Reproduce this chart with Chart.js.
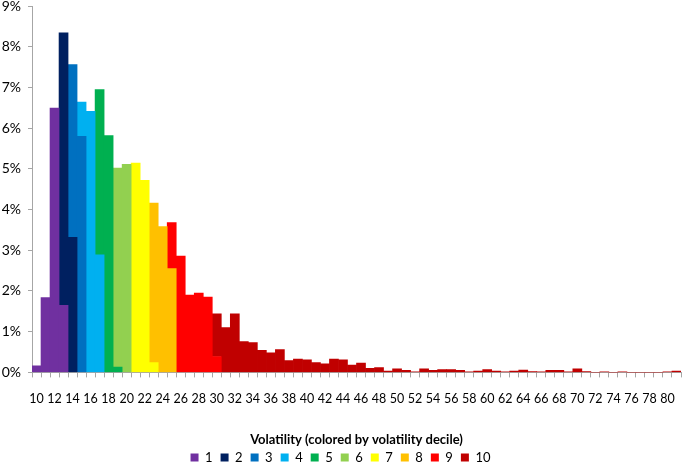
<!DOCTYPE html>
<html>
<head>
<meta charset="utf-8">
<script src="https://cdn.jsdelivr.net/npm/chart.js@4/dist/chart.umd.min.js"></script>
<style>
  html, body { margin: 0; padding: 0; background: #fff; }
  #wrap { width: 685px; height: 464px; }
</style>
</head>
<body>
<div id="wrap"><canvas id="volChart" width="685" height="464"></canvas></div>
<script>
// volatility bins 10..81 (width 1)
const firstBin = 10;
const lastBin = 81;

// share of observations (%) per bin, split by volatility decile
// each decile: first bin it appears in + values for consecutive bins
const decile1Start = 10, decile1 = [0.16, 1.84, 6.49, 1.65];
const decile2Start = 13, decile2 = [6.69, 3.32];
const decile3Start = 14, decile3 = [4.24, 5.80];
const decile4Start = 15, decile4 = [0.84, 6.41, 2.89];
const decile5Start = 17, decile5 = [4.06, 5.82, 0.13];
const decile6Start = 19, decile6 = [4.89, 5.11];
const decile7Start = 21, decile7 = [5.14, 4.72, 0.24];
const decile8Start = 23, decile8 = [3.92, 3.58, 2.55];
const decile9Start = 25, decile9 = [1.13, 2.86, 1.90, 1.95, 1.85, 0.39];
const decile10Start = 30, decile10 = [1.05, 1.10, 1.44, 0.76, 0.73, 0.54, 0.48, 0.56, 0.29, 0.33,
  0.31, 0.24, 0.21, 0.33, 0.31, 0.18, 0.23, 0.10, 0.12, 0.03,
  0.09, 0.05, 0.01, 0.09, 0.05, 0.07, 0.07, 0.05, 0.01, 0.03,
  0.07, 0.03, 0.01, 0.03, 0.06, 0.02, 0.01, 0.05, 0.05, 0.01,
  0.09, 0.02, 0, 0.01, 0, 0.01, 0, 0, 0, 0, 0.01, 0.03];

const decileLabels = ['1', '2', '3', '4', '5', '6', '7', '8', '9', '10'];
const decileColors = ['#7030A0', '#002060', '#0070C0', '#00B0F0', '#00B050',
  '#92D050', '#FFFF00', '#FFC000', '#FF0000', '#C00000'];

const yTicks = [0, 1, 2, 3, 4, 5, 6, 7, 8, 9];

const bins = [];
for (let v = firstBin; v <= lastBin; v++) bins.push(String(v));

function spread(start, values) {
  const out = bins.map(() => null);
  values.forEach((v, i) => { out[start - firstBin + i] = v; });
  return out;
}

const decileData = [
  spread(decile1Start, decile1), spread(decile2Start, decile2),
  spread(decile3Start, decile3), spread(decile4Start, decile4),
  spread(decile5Start, decile5), spread(decile6Start, decile6),
  spread(decile7Start, decile7), spread(decile8Start, decile8),
  spread(decile9Start, decile9), spread(decile10Start, decile10)
];

Chart.defaults.font.family = "Lato, 'Open Sans', sans-serif";
Chart.defaults.color = '#000';

new Chart(document.getElementById('volChart').getContext('2d'), {
  type: 'bar',
  data: {
    labels: bins,
    datasets: decileData.map((d, i) => ({
      label: decileLabels[i],
      data: d,
      backgroundColor: decileColors[i],
      borderWidth: 0,
      barPercentage: 1,
      categoryPercentage: 1
    }))
  },
  options: {
    responsive: false,
    animation: false,
    layout: { padding: { left: 0, right: 4, top: 0, bottom: -10 } },
    plugins: {
      tooltip: { enabled: false },
      legend: {
        position: 'bottom',
        labels: {
          boxWidth: 8,
          boxHeight: 8,
          padding: 8,
          font: { size: 13 }
        }
      }
    },
    scales: {
      x: {
        stacked: true,
        offset: true,
        afterFit: axis => { axis.paddingLeft = 0; axis.paddingRight = 0; },
        grid: {
          display: true,
          offset: true,
          drawOnChartArea: false,
          drawTicks: true,
          tickLength: 5,
          color: '#A6A6A6'
        },
        border: { color: '#A6A6A6' },
        ticks: {
          autoSkip: false,
          maxRotation: 0,
          padding: 14,
          font: { size: 12.5 },
          callback: function (value, index) {
            return index % 2 === 0 ? this.getLabelForValue(value) : '';
          }
        },
        title: {
          display: true,
          text: 'Volatility (colored by volatility decile)',
          font: { size: 13, weight: 'bold' },
          padding: { top: 12, bottom: -5 }
        }
      },
      y: {
        stacked: true,
        min: 0,
        max: 9,
        afterBuildTicks: axis => { axis.ticks = yTicks.map(v => ({ value: v })); },
        afterFit: axis => { axis.paddingTop = 6; axis.width = 32; },
        grid: {
          display: true,
          drawOnChartArea: false,
          drawTicks: true,
          tickLength: 4,
          color: '#A6A6A6'
        },
        border: { color: '#A6A6A6' },
        ticks: {
          padding: 7,
          font: { size: 14 },
          callback: v => v + '%'
        }
      }
    }
  }
});
</script>
</body>
</html>
